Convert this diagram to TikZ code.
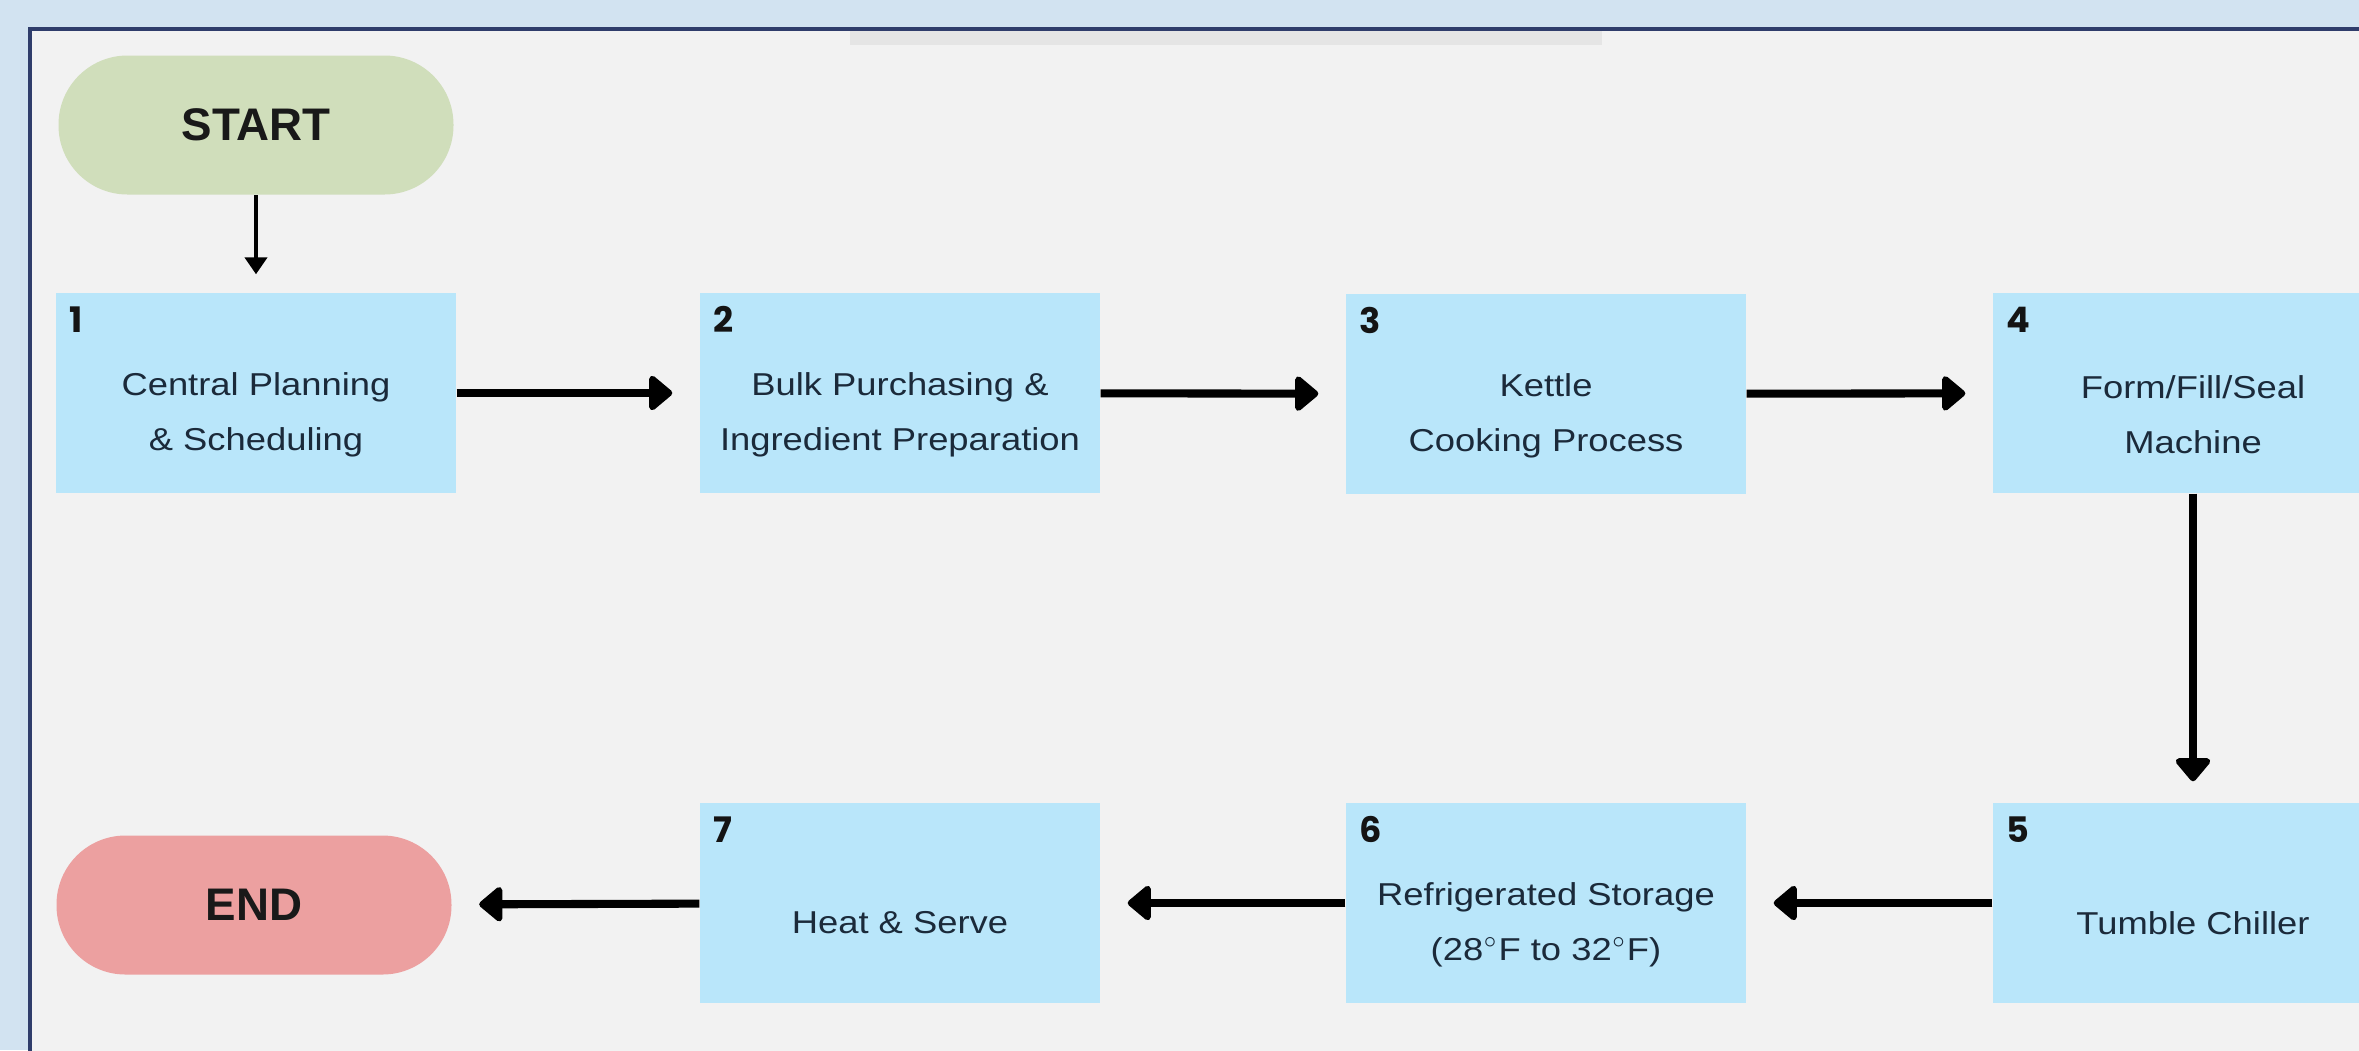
\documentclass[tikz,border=0pt]{standalone}
\usepackage{fontspec}
\setmainfont{Liberation Sans}
\newfontfamily\boxfont{Liberation Sans}[FakeStretch=1.15]
\newfontfamily\numfont{Poppins}
\usetikzlibrary{arrows.meta, positioning}

\definecolor{pagebg}{RGB}{210,227,241}
\definecolor{panelbg}{RGB}{242,242,242}
\definecolor{panelline}{RGB}{47,61,107}
\definecolor{stripgray}{RGB}{229,229,229}
\definecolor{stepfill}{RGB}{185,230,250}
\definecolor{stepink}{RGB}{27,42,58}
\definecolor{startfill}{RGB}{208,222,187}
\definecolor{endfill}{RGB}{236,160,160}

\tikzset{
  stepbox/.style={rectangle, fill=stepfill, minimum width=4cm, minimum height=2cm, inner sep=0pt},
  steptext/.style={align=center, text=stepink, inner sep=0pt,
    font=\boxfont\fontsize{9}{15.6}\selectfont},
  stepnum/.style={anchor=base west, inner sep=0pt, text=black!92,
    font=\numfont\bfseries\fontsize{10}{12}\selectfont},
  terminal/.style={rectangle, rounded corners=0.69cm, minimum width=3.95cm,
    minimum height=1.39cm, text=black!90, font=\bfseries\fontsize{13}{15}\selectfont},
  flow/.style={line width=2.3pt, -{Triangle[length=0.25cm 0 0, width=0.4cm 0 0, line join=round]},
    shorten >=0.27cm},
}

\begin{document}
\begin{tikzpicture}
\clip (0,0) rectangle (23.59,-10.50);

% Page and panel
\fill[pagebg] (0,0) rectangle (23.59,-10.50);
\draw[panelline, line width=1.2pt, fill=panelbg] (0.30,-0.29) rectangle (24.5,-11.5);
\fill[stripgray] (8.50,-0.31) rectangle (16.02,-0.45);

% Terminals
\node[terminal, fill=startfill] (start) at (2.56,-1.25) {START};
\node[terminal, fill=endfill] (end) at (2.54,-9.05) {END};

% Steps, top row
\node[stepbox] (b1) at (2.56,-3.93) {};
\node[stepbox] (b2) at (9.00,-3.93) {};
\node[stepbox] (b3) at (15.46,-3.94) {};
\node[stepbox] (b4) at (21.93,-3.93) {};

% Steps, bottom row
\node[stepbox] (b5) at (21.93,-9.03) {};
\node[stepbox] (b6) at (15.46,-9.03) {};
\node[stepbox] (b7) at (9.00,-9.03) {};

% Step numbers
\node[stepnum] (n1) at ([shift={(0.13,-0.40)}]b1.north west) {1};
\node[stepnum] (n2) at ([shift={(0.13,-0.40)}]b2.north west) {2};
\node[stepnum] (n3) at ([shift={(0.13,-0.40)}]b3.north west) {3};
\node[stepnum] (n4) at ([shift={(0.13,-0.40)}]b4.north west) {4};
\node[stepnum] (n5) at ([shift={(0.13,-0.40)}]b5.north west) {5};
\node[stepnum] (n6) at ([shift={(0.13,-0.40)}]b6.north west) {6};
\node[stepnum] (n7) at ([shift={(0.13,-0.40)}]b7.north west) {7};

% Step texts
\node[steptext] (t1) at ([yshift=-0.22cm]b1.center) {Central Planning\\\& Scheduling};
\node[steptext] (t2) at ([yshift=-0.22cm]b2.center) {Bulk Purchasing \&\\Ingredient Preparation};
\node[steptext] (t3) at ([yshift=-0.22cm]b3.center) {Kettle\\Cooking Process};
\node[steptext] (t4) at ([yshift=-0.22cm]b4.center) {Form/Fill/Seal\\Machine};
\node[steptext] (t5) at ([yshift=-0.20cm]b5.center) {Tumble Chiller};
\node[steptext] (t6) at ([yshift=-0.22cm]b6.center) {Refrigerated Storage\\(28$^\circ$F to 32$^\circ$F)};
\node[steptext] (t7) at ([yshift=-0.20cm]b7.center) {Heat \& Serve};

% Connectors
\draw[line width=1.2pt, -{Triangle[length=0.17cm 0 0, width=0.22cm 0 0]}, shorten >=0.18cm]
    (start) -- (b1);
\draw[flow] (b1) -- (b2);
\draw[flow] (b2) -- (b3);
\draw[flow] (b3) -- (b4);
\draw[flow, shorten >=0.21cm] (b4) -- (b5);
\draw[flow] (b5) -- (b6);
\draw[flow] (b6) -- (b7);
\draw[flow] (b7) -- (end);
\end{tikzpicture}
\end{document}
